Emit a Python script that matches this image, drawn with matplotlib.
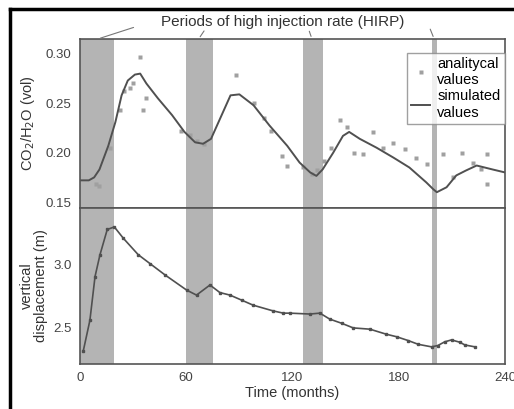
import matplotlib
matplotlib.use("Agg")
import matplotlib.pyplot as plt
from matplotlib.lines import Line2D

plt.rcParams['font.family'] = ['Liberation Sans', 'DejaVu Sans']

# periods of high injection rate (months)
hirp_start = [0, 60, 126, 199]
hirp_end = [19, 75, 137, 201.5]

# simulated CO2/H2O
sim_t = [0, 5, 8, 11, 16, 20, 23.5, 27, 31, 34, 37.5, 44, 52, 59, 65, 69.5, 74, 80, 85, 90,
         98, 107, 117, 124, 130, 133.5, 137, 143, 148.5, 152, 158, 167.5, 177, 186, 195.5,
         199.5, 201.5, 207, 212.5, 218, 224, 233, 240]
sim_v = [0.172, 0.172, 0.175, 0.183, 0.207, 0.231, 0.258, 0.273, 0.279, 0.280, 0.270, 0.255,
         0.238, 0.221, 0.2105, 0.209, 0.214, 0.238, 0.258, 0.259, 0.248, 0.2275, 0.207, 0.190,
         0.180, 0.1765, 0.183, 0.200, 0.217, 0.221, 0.214, 0.205, 0.195, 0.185, 0.170, 0.163,
         0.160, 0.165, 0.177, 0.182, 0.187, 0.183, 0.180]

# analytical CO2/H2O
ana_t = [9, 11, 17, 22.5, 25, 28, 30, 34, 35.5, 37.5, 57, 62, 66, 70, 88, 98, 104, 108, 114,
         117, 126, 131, 134, 138, 142, 147, 150.5, 155, 160, 165.5, 171, 177, 183.5, 190, 196,
         205, 210.5, 215.5, 222, 226.7, 229.6, 229.6]
ana_v = [0.168, 0.166, 0.205, 0.243, 0.262, 0.265, 0.270, 0.297, 0.243, 0.255, 0.222, 0.218,
         0.212, 0.209, 0.279, 0.250, 0.235, 0.222, 0.197, 0.187, 0.185, 0.178, 0.182, 0.192,
         0.205, 0.233, 0.226, 0.200, 0.199, 0.221, 0.205, 0.210, 0.204, 0.195, 0.189, 0.199,
         0.175, 0.200, 0.190, 0.183, 0.199, 0.168]

# vertical displacement (m)
disp_t = [1.9, 5.6, 8.5, 11.3, 15.4, 19.4, 24.5, 32.9, 39.5, 48, 60.2, 65.8, 73.4, 79, 84.7,
          91.3, 97.8, 109, 114.8, 118.5, 129.8, 135.5, 141, 147.7, 154.3, 163.7, 173, 178.8,
          185.3, 191, 198.5, 202, 206, 209.8, 214.6, 217.3, 223]
disp_v = [2.32, 2.56, 2.907, 3.08, 3.28, 3.30, 3.21, 3.08, 3.01, 2.92, 2.80, 2.76, 2.84, 2.78,
          2.76, 2.72, 2.68, 2.635, 2.617, 2.617, 2.61, 2.617, 2.57, 2.537, 2.50, 2.49, 2.45,
          2.43, 2.40, 2.37, 2.35, 2.36, 2.39, 2.405, 2.386, 2.365, 2.35]

fig = plt.figure(figsize=(5.14, 4.09), dpi=100)
ax1 = fig.add_axes([0.1556, 0.4914, 0.8269, 0.4132])
ax2 = fig.add_axes([0.1556, 0.110, 0.8269, 0.3814])

band_color = '#b4b4b4'
spine_color = '#555555'
for ax in (ax1, ax2):
    for s, e in zip(hirp_start, hirp_end):
        ax.axvspan(s, e, color=band_color, lw=0, zorder=0)
    ax.set_xlim(0, 240)
    ax.set_xticks([0, 60, 120, 180, 240])
    ax.tick_params(length=0, labelsize=9.5, colors='#444444', pad=6)
    for sp in ax.spines.values():
        sp.set_color(spine_color)
        sp.set_linewidth(1.2)

ax1.plot(ana_t, ana_v, 's', ms=3, color='#a0a0a0', mec='none', label='analitycal\nvalues')
ax1.plot(sim_t, sim_v, '-', lw=1.4, color='#505050', label='simulated\nvalues')
ax1.set_ylim(0.144, 0.315)
ax1.set_yticks([0.15, 0.20, 0.25, 0.30])
ax1.set_yticklabels(['0.15', '0.20', '0.25', '0.30'])
ax1.tick_params(labelbottom=False)
ax1.set_ylabel('CO$_2$/H$_2$O (vol)', fontsize=10.5, color='#333333', labelpad=6)
leg = ax1.legend(loc='upper right', bbox_to_anchor=(1.0, 0.92), fontsize=10.5, frameon=True,
                 fancybox=False, edgecolor='#888888', handlelength=1.3, handletextpad=0.5,
                 borderpad=0.3, labelspacing=0.15, borderaxespad=0)
leg.get_frame().set_linewidth(1.0)

ax2.plot(disp_t, disp_v, '-s', ms=1.8, lw=1.2, color='#505050')
ax2.set_ylim(2.214, 3.45)
ax2.set_yticks([2.5, 3.0])
ax2.set_ylabel('vertical\ndisplacement (m)', fontsize=10.5, color='#333333',
               labelpad=4, linespacing=1.0)
ax2.set_xlabel('Time (months)', fontsize=10.5, color='#333333', labelpad=1)

# annotation for HIRP
fig.text(0.55, 0.945, 'Periods of high injection rate (HIRP)', ha='center', va='center',
         fontsize=11, color='#333333')
ann_color = '#777777'
for tx, fx, fy in [(10, 0.265, 0.935), (67, 0.40, 0.93), (131, 0.60, 0.93), (200, 0.835, 0.935)]:
    ax1.annotate('', xy=(tx, 0.315), xycoords='data', xytext=(fx, fy), textcoords='figure fraction',
                 arrowprops=dict(arrowstyle='-', color=ann_color, lw=0.8))

# outer black frame
fig.add_artist(Line2D([0.020, 0.020], [0.0, 0.978], transform=fig.transFigure, color='black', lw=2.5))
fig.add_artist(Line2D([0.020, 1.0], [0.978, 0.978], transform=fig.transFigure, color='black', lw=2.5))

fig.savefig('out.png', dpi=100)
